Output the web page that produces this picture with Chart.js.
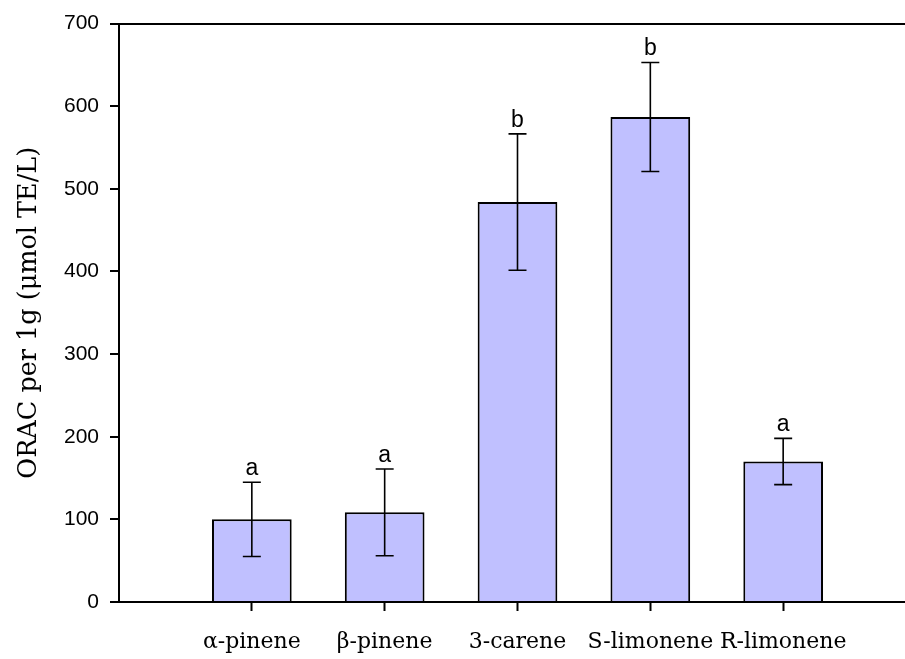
<!DOCTYPE html>
<html>
<head>
<meta charset="utf-8">
<script src="https://cdn.jsdelivr.net/npm/chart.js@4"></script>
<style>
  html, body { margin: 0; padding: 0; background: #fff; overflow: hidden; }
  #wrap { width: 918px; height: 659px; }
</style>
</head>
<body>
<div id="wrap"><canvas id="oracChart" width="918" height="659"></canvas></div>
<script>
// values
const compounds = ['α-pinene', 'β-pinene', '3-carene', 'S-limonene', 'R-limonene'];
const oracValues = [100, 108.5, 484, 587, 170];
const oracErrors = [45, 52.5, 82.5, 66, 28];
const groupLetters = ['a', 'a', 'b', 'b', 'a'];
const yTicks = [0, 100, 200, 300, 400, 500, 600, 700];

// empty slot on each side, like the original axis (bars sit at 1..5)
const labels = [''].concat(compounds, ['']);
const barData = [null].concat(oracValues, [null]);

// error bars + significance letters
const errorBarPlugin = {
    id: 'errorBars',
    afterDatasetsDraw(chart) {
        const ctx = chart.ctx;
        const yScale = chart.scales.y;
        const meta = chart.getDatasetMeta(0);
        ctx.save();
        ctx.strokeStyle = '#000';
        ctx.lineWidth = 1.6;
        ctx.fillStyle = '#000';
        ctx.font = '23px "Liberation Sans", Arial, sans-serif';
        ctx.textAlign = 'center';
        ctx.textBaseline = 'alphabetic';
        compounds.forEach((name, i) => {
            const bar = meta.data[i + 1];
            const x = bar.x;
            const yTop = yScale.getPixelForValue(oracValues[i] + oracErrors[i]);
            const yBot = yScale.getPixelForValue(oracValues[i] - oracErrors[i]);
            const cap = 9;
            ctx.beginPath();
            ctx.moveTo(x, yTop); ctx.lineTo(x, yBot);
            ctx.moveTo(x - cap, yTop); ctx.lineTo(x + cap, yTop);
            ctx.moveTo(x - cap, yBot); ctx.lineTo(x + cap, yBot);
            ctx.stroke();
            ctx.fillText(groupLetters[i], x, yTop - 7);
        });
        ctx.restore();
    }
};

const ctx = document.getElementById('oracChart').getContext('2d');
const oracChart = new Chart(ctx, {
    type: 'bar',
    data: {
        labels: labels,
        datasets: [{
            data: barData,
            backgroundColor: '#c0c0ff',
            borderColor: '#000',
            borderWidth: 2,
            barPercentage: 1,
            categoryPercentage: 0.6
        }]
    },
    options: {
        responsive: false,
        animation: false,
        // canvas is a bit wider than the picture: the plot runs past the right edge, as in the original crop
        layout: { padding: { top: 23, right: 2, left: 0, bottom: 0 } },
        plugins: {
            legend: { display: false },
            tooltip: { enabled: false }
        },
        scales: {
            x: {
                offset: false,
                grid: {
                    offset: false,
                    drawOnChartArea: false,
                    tickLength: 9,
                    tickWidth: 2,
                    tickColor: (c) => (c.index === 0 || c.index === labels.length - 1) ? 'rgba(0,0,0,0)' : '#000'
                },
                border: { color: '#000', width: 2 },
                ticks: {
                    color: '#000',
                    padding: 18,
                    maxRotation: 0,
                    autoSkip: false,
                    font: { family: '"DejaVu Serif", serif', size: 22 }
                },
                afterFit(scale) {
                    scale.height = 57;
                    scale.paddingLeft = 0;
                    scale.paddingRight = 0;
                }
            },
            y: {
                min: 0,
                max: 700,
                afterBuildTicks(scale) { scale.ticks = yTicks.map(v => ({ value: v })); },
                grid: {
                    drawOnChartArea: true,
                    color: (c) => (c.tick && c.tick.value === 700) ? '#000' : 'rgba(0,0,0,0)',
                    lineWidth: 2,
                    tickLength: 9,
                    tickWidth: 2,
                    tickColor: '#000'
                },
                border: { color: '#000', width: 2 },
                ticks: {
                    color: '#000',
                    padding: 11,
                    font: { family: '"Liberation Sans", Arial, sans-serif', size: 21 }
                },
                title: {
                    display: true,
                    text: 'ORAC per 1g (μmol TE/L)',
                    color: '#000',
                    padding: { top: 14, bottom: 0 },
                    font: { family: '"DejaVu Serif", serif', size: 25.5 }
                },
                afterFit(scale) { scale.width = 119; }
            }
        }
    },
    plugins: [errorBarPlugin]
});
</script>
</body>
</html>
